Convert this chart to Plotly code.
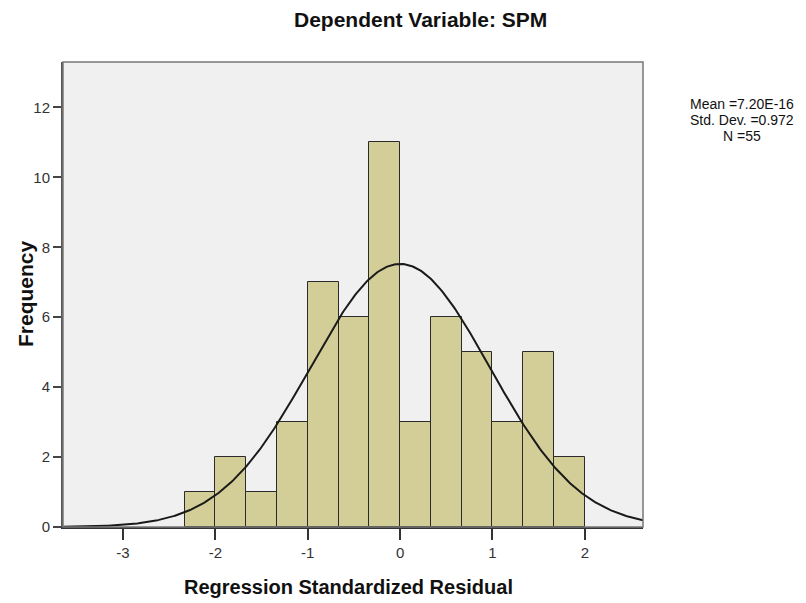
import numpy as np
import plotly.graph_objects as go

# Data
bin_start = -7 / 3
bin_width = 1 / 3
counts = [1, 2, 1, 3, 7, 6, 11, 3, 6, 5, 3, 5, 2]
mean_val = 7.20e-16
std_val = 0.972
n_val = 55
x_ticks = [-3, -2, -1, 0, 1, 2]
x_tick_labels = ["-3", "-2", "-1", "0", "1", "2"]
y_ticks = [0, 2, 4, 6, 8, 10, 12]
y_tick_labels = ["0", "2", "4", "6", "8", "10", "12"]
x_range = [-3.65, 2.63]
y_range = [0, 13.3]
stats_lines = [f"Mean ={mean_val:.2E}", f"Std. Dev. ={std_val}", f"N ={n_val}"]

centers = [bin_start + bin_width * (i + 0.5) for i in range(len(counts))]

xs = np.linspace(x_range[0], x_range[1], 400)
ys = n_val * bin_width * np.exp(-0.5 * ((xs - mean_val) / std_val) ** 2) / (std_val * np.sqrt(2 * np.pi))

font_family = "Liberation Sans Narrow, Liberation Sans, Arial, sans-serif"

# page body adds an 8px offset; work in window pixels and compensate
OFF = 8
W, H = 806 - OFF, 603 - OFF
PL, PT, PW, PH = 63, 62, 580, 465  # plot box in window pixels
L, T = PL - OFF, PT - OFF
R, B = W - L - PW, H - T - PH


def px_x(x):
    return (x - PL) / PW


def px_y(y):
    return 1 - (y - PT) / PH


fig = go.Figure()
fig.add_trace(go.Bar(
    x=centers, y=counts, width=bin_width,
    marker=dict(color="#D3CE97", line=dict(color="#2b2b2b", width=1)),
    hoverinfo="x+y", showlegend=False,
))
fig.add_trace(go.Scatter(
    x=xs, y=ys, mode="lines",
    line=dict(color="#1a1a1a", width=2),
    showlegend=False, hoverinfo="skip",
))

annotations = [
    dict(xref="paper", yref="paper", x=px_x(420), y=px_y(20),
         xanchor="center", yanchor="middle", showarrow=False,
         text="<b>Dependent Variable: SPM</b>",
         font=dict(size=21, color="#111", family=font_family)),
    dict(xref="paper", yref="paper", x=px_x(348), y=px_y(587),
         xanchor="center", yanchor="middle", showarrow=False,
         text="<b>Regression Standardized Residual</b>",
         font=dict(size=20, color="#111", family=font_family)),
    dict(xref="paper", yref="paper", x=px_x(25), y=px_y(294),
         xanchor="center", yanchor="middle", showarrow=False, textangle=-90,
         text="<b>Frequency</b>",
         font=dict(size=21, color="#111", family=font_family)),
]
for i, line in enumerate(stats_lines):
    annotations.append(dict(
        xref="paper", yref="paper", x=px_x(742), y=px_y(104 + 16 * i),
        xanchor="center", yanchor="middle", showarrow=False,
        text=line, font=dict(size=14, color="#111", family=font_family)))

fig.update_layout(
    width=W, height=H,
    margin=dict(l=L, r=R, t=T, b=B),
    paper_bgcolor="white",
    plot_bgcolor="#F0F0F0",
    font=dict(family=font_family, color="#222"),
    bargap=0,
    xaxis=dict(
        range=x_range, tickvals=x_ticks, ticktext=x_tick_labels,
        ticks="outside", ticklen=11, tickwidth=1.5, tickcolor="#333",
        showline=True, linecolor="#333", linewidth=2,
        showgrid=False, zeroline=False, automargin=False,
        tickfont=dict(size=15, color="#333"),
    ),
    yaxis=dict(
        range=y_range, tickvals=y_ticks, ticktext=y_tick_labels,
        ticks="outside", ticklen=8, tickwidth=1.5, tickcolor="#444",
        showline=True, linecolor="#555", linewidth=2,
        showgrid=False, zeroline=False, automargin=False,
        tickfont=dict(size=15, color="#333"),
    ),
    shapes=[dict(type="rect", xref="paper", yref="paper", x0=0, y0=0, x1=1, y1=1,
                 line=dict(color="#777", width=1.5), fillcolor="rgba(0,0,0,0)", layer="above")],
    annotations=annotations,
)

fig.write_html("out.html")
